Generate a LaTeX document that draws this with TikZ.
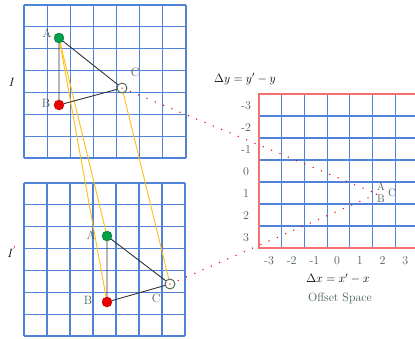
\documentclass[tikz,border=0pt]{standalone}
\usepackage{tikz}
\usetikzlibrary{positioning}
\definecolor{GridBlue}{RGB}{80,130,216}
\definecolor{BorderRed}{RGB}{242,112,112}
\definecolor{LabelGray}{RGB}{72,96,78}
\definecolor{DotGreen}{RGB}{0,160,72}
\definecolor{DotRed}{RGB}{235,0,0}
\definecolor{MatchYellow}{RGB}{255,190,20}
\tikzset{
  gridline/.style={draw=GridBlue,line width=1.2pt},
  redframe/.style={draw=BorderRed,line width=1.6pt},
  adot/.style={circle,fill=DotGreen,draw=DotGreen!70!black,line width=0.4pt,
               minimum size=10pt,inner sep=0pt},
  bdot/.style={circle,fill=DotRed,draw=DotRed!80!black,line width=0.4pt,
               minimum size=10pt,inner sep=0pt},
  cdot/.style={circle,fill=white,draw=LabelGray,line width=0.9pt,
               minimum size=10pt,inner sep=0pt},
  lab/.style={text=LabelGray,font=\fontsize{12}{13}\selectfont,inner sep=1pt},
  tri/.style={draw=black!80,line width=0.9pt},
  match/.style={draw=MatchYellow,line width=0.9pt},
  offdot/.style={draw=DotRed,line width=1.5pt,line cap=round,
                 dash pattern=on 0pt off 9pt},
}
\begin{document}
\begin{tikzpicture}[x=1pt,y=-1pt]
    \useasboundingbox (0,0) rectangle (415,338);
    \clip (0,0) rectangle (415,338);

    % image grids I and I'
    \foreach \i in {0,...,7} {
      \draw[gridline] ({24+\i*162/7},5) -- ({24+\i*162/7},158);
      \draw[gridline] (24,{5+\i*153/7}) -- (186,{5+\i*153/7});
      \draw[gridline] ({24+\i*161/7},183) -- ({24+\i*161/7},336);
      \draw[gridline] (24,{183+\i*153/7}) -- (185,{183+\i*153/7});
    }

    % offset space grid
    \foreach \i in {1,...,6} {
      \draw[gridline] ({259+\i*22.7},94) -- ({259+\i*22.7},248);
      \draw[gridline] (259,{94+\i*22}) -- (420,{94+\i*22});
    }
    \draw[redframe] (420,94) -- (259,94) -- (259,248) -- (420,248);

    % axis labels
    \foreach \v [count=\k from 0] in {-3,-2,-1,0,1,2,3} {
      \node[lab] (ylab\k) at (246,{106+\k*22}) {\v};
      \node[lab] (xlab\k) at ({269+\k*22.7},261) {\v};
    }
    \node[font=\fontsize{12}{13}\selectfont] (dy) at (245,79) {$\Delta y = y' - y$};
    \node[font=\fontsize{12}{13}\selectfont] (dx) at (338,279) {$\Delta x = x' - x$};
    \node[lab] (space) at (340,298) {Offset Space};

    \node[font=\fontsize{13}{14}\selectfont] (imgI) at (12,82) {$I$};
    \node[font=\fontsize{13}{14}\selectfont] (imgIp) at (12,252) {$I^{\textcolor{DotRed}{'}}$};

    % points in I and I'
    \node[adot] (tA) at (59,38) {};
    \node[bdot] (tB) at (59,105) {};
    \node[cdot] (tC) at (122,88) {};
    \node[adot] (bA) at (107,236) {};
    \node[bdot] (bB) at (107,302) {};
    \node[cdot] (bC) at (170,284) {};

    \node[lab] at (47,33) {A};
    \node[lab] at (46,103) {B};
    \node[lab] at (135,72) {C};
    \node[lab] at (91,235) {A};
    \node[lab] at (88,300) {B};
    \node[lab] at (156,298) {C};

    % correspondences
    \draw[match] (tA) -- (bA);
    \draw[match] (tA) -- (bB);
    \draw[match] (tC) -- (bC);

    \draw[tri] (tA) -- (tB) -- (tC) -- (tA);
    \draw[tri] (bA) -- (bB) -- (bC) -- (bA);

    % offsets
    \coordinate (off) at (377,194);
    \draw[offdot] (tC.center) -- (off);
    \draw[offdot] (bC.center) -- (off);
    \node[lab,font=\fontsize{11}{12}\selectfont] (oA) at (381,187) {A};
    \node[lab,font=\fontsize{11}{12}\selectfont] (oB) at (381,199) {B};
    \node[lab,font=\fontsize{11}{12}\selectfont] (oC) at (392,193) {C};
\end{tikzpicture}
\end{document}
